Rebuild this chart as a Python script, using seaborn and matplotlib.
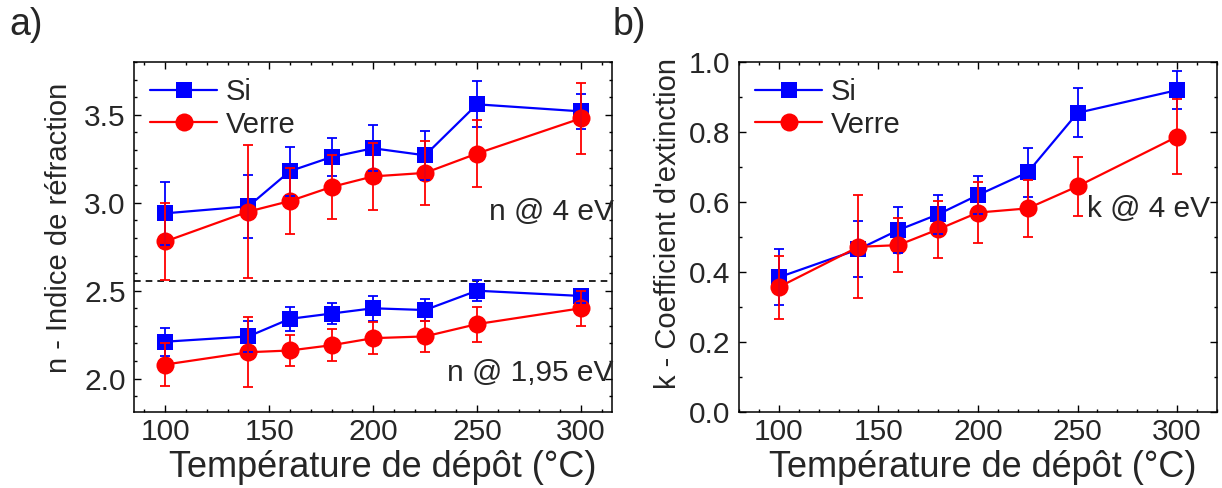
import numpy as np
import pandas as pd
import matplotlib
matplotlib.use("Agg")
import matplotlib.pyplot as plt
from matplotlib.ticker import MultipleLocator, FormatStrFormatter
import seaborn as sns

# deposition temperatures (°C)
temps = [100, 140, 160, 180, 200, 225, 250, 300]

# refractive index n @ 4 eV
n4_si = [2.94, 2.98, 3.18, 3.26, 3.31, 3.27, 3.56, 3.52]
n4_si_err = [0.18, 0.18, 0.14, 0.11, 0.13, 0.14, 0.13, 0.10]
n4_verre = [2.78, 2.95, 3.01, 3.09, 3.15, 3.17, 3.28, 3.48]
n4_verre_err = [0.22, 0.38, 0.19, 0.18, 0.19, 0.18, 0.19, 0.20]

# refractive index n @ 1,95 eV
n195_si = [2.21, 2.24, 2.34, 2.37, 2.40, 2.39, 2.50, 2.47]
n195_si_err = [0.08, 0.09, 0.07, 0.06, 0.07, 0.06, 0.06, 0.04]
n195_verre = [2.08, 2.15, 2.16, 2.19, 2.23, 2.24, 2.31, 2.40]
n195_verre_err = [0.12, 0.20, 0.09, 0.09, 0.09, 0.09, 0.10, 0.10]

# extinction coefficient k @ 4 eV
k_si = [0.385, 0.465, 0.52, 0.565, 0.62, 0.685, 0.855, 0.92]
k_si_err = [0.08, 0.08, 0.065, 0.055, 0.055, 0.07, 0.07, 0.055]
k_verre = [0.357, 0.472, 0.477, 0.522, 0.57, 0.582, 0.645, 0.787]
k_verre_err = [0.09, 0.147, 0.077, 0.082, 0.088, 0.082, 0.085, 0.107]

separator = 2.555

sns.set_style("ticks")
plt.rcParams['font.family'] = ['Liberation Sans', 'DejaVu Sans']

BLUE = "#0000ff"
RED = "#ff0000"
styles = {"Si": dict(color=BLUE, marker="s", ms=12),
          "Verre": dict(color=RED, marker="o", ms=13)}


def draw(ax, y, err, name, legend):
    st = styles[name]
    df = pd.DataFrame({"T": temps, "v": y})
    sns.lineplot(data=df, x="T", y="v", ax=ax, color=st["color"], lw=1.6,
                 marker=st["marker"], markersize=st["ms"], markeredgewidth=0,
                 label=name if legend else None, legend=False, zorder=3)
    ax.errorbar(temps, y, yerr=err, fmt="none", ecolor=st["color"],
                elinewidth=1.3, capsize=3.5, capthick=1.3, zorder=4)


def style_axes(ax, xlab_x):
    for s in ax.spines.values():
        s.set_linewidth(1.1)
        s.set_color("black")
    ax.tick_params(which="both", direction="in", top=True, right=True,
                   labelsize=21.5, width=1.0, color="black")
    ax.tick_params(which="major", length=5)
    ax.tick_params(which="minor", length=2.5)
    ax.tick_params(axis="x", which="both", pad=4)
    ax.tick_params(axis="y", which="both", pad=6)
    ax.xaxis.set_major_locator(MultipleLocator(50))
    ax.xaxis.set_minor_locator(MultipleLocator(10))
    ax.yaxis.set_major_formatter(FormatStrFormatter("%.1f"))
    ax.set_xlabel("Température de dépôt (°C)", fontsize=26)
    ax.xaxis.set_label_coords(xlab_x, -0.108)


fig = plt.figure(figsize=(12.22, 4.88), dpi=100)
ax1 = fig.add_axes([0.1097, 0.1557, 0.3912, 0.717])
ax2 = fig.add_axes([0.6047, 0.1557, 0.3912, 0.717])

# panel a
draw(ax1, n4_si, n4_si_err, "Si", True)
draw(ax1, n4_verre, n4_verre_err, "Verre", True)
draw(ax1, n195_si, n195_si_err, "Si", False)
draw(ax1, n195_verre, n195_verre_err, "Verre", False)
ax1.axhline(separator, color="black", lw=1.2, ls=(0, (4, 3)), zorder=2)
ax1.set_xlim(85, 315)
ax1.set_ylim(1.81, 3.8)
ax1.yaxis.set_major_locator(MultipleLocator(0.5))
ax1.yaxis.set_minor_locator(MultipleLocator(0.1))
style_axes(ax1, 0.52)
ax1.set_ylabel("n - Indice de réfraction", fontsize=21)
ax1.yaxis.set_label_coords(-0.127, 0.526)
ax1.text(1.003, 2.95, "n @ 4 eV", transform=ax1.get_yaxis_transform(),
         ha="right", va="center", fontsize=21.5)
ax1.text(1.003, 2.03, "n @ 1,95 eV", transform=ax1.get_yaxis_transform(),
         ha="right", va="center", fontsize=21.5)

# panel b
draw(ax2, k_si, k_si_err, "Si", True)
draw(ax2, k_verre, k_verre_err, "Verre", True)
ax2.set_xlim(80, 320)
ax2.set_ylim(0, 1.0)
ax2.yaxis.set_major_locator(MultipleLocator(0.2))
ax2.yaxis.set_minor_locator(MultipleLocator(0.1))
style_axes(ax2, 0.51)
ax2.set_ylabel("k - Coefficient d'extinction", fontsize=21)
ax2.yaxis.set_label_coords(-0.12, 0.54)
ax2.text(0.985, 0.58, "k @ 4 eV", transform=ax2.get_yaxis_transform(),
         ha="right", va="center", fontsize=21.5)

for ax in (ax1, ax2):
    ax.legend(loc="upper left", frameon=False, fontsize=21, handlelength=2.3,
              handletextpad=0.3, labelspacing=0.15, borderaxespad=0.35,
              borderpad=0.2)

fig.text(0.008, 0.985, "a)", fontsize=27, va="top", ha="left")
fig.text(0.501, 0.985, "b)", fontsize=27, va="top", ha="left")

fig.savefig("out.png", dpi=100)
